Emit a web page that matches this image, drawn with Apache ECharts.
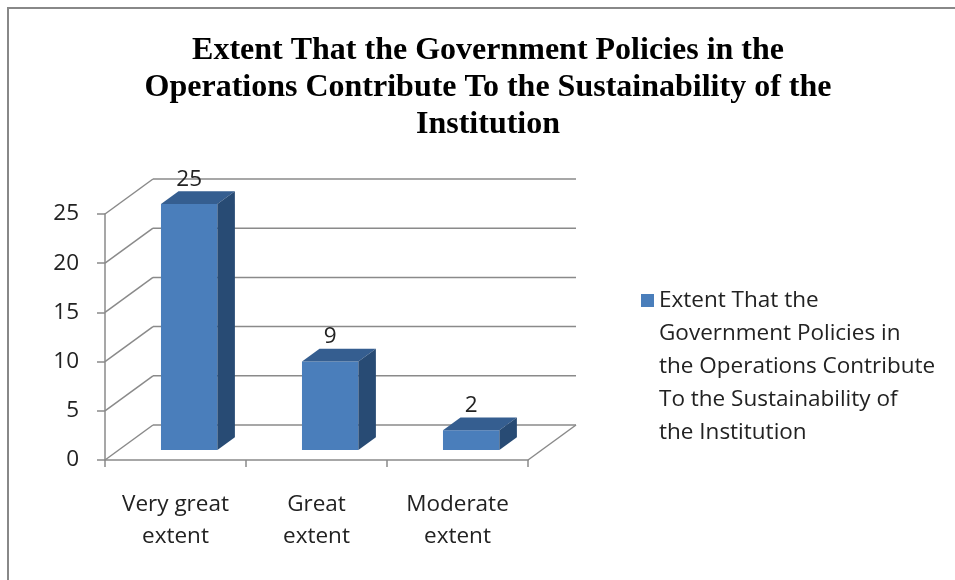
<!DOCTYPE html>
<html>
<head>
<meta charset="utf-8">
<script src="https://cdn.jsdelivr.net/npm/echarts@6/dist/echarts.min.js"></script>
<style>html,body{margin:0;padding:0;background:#fff;}#c{width:955px;height:580px;}</style>
</head>
<body>
<div id="c"></div>
<script>
const titleText = 'Extent That the Government Policies in the\nOperations Contribute To the Sustainability of the\nInstitution';
const seriesName = 'Extent That the Government Policies in the Operations Contribute To the Sustainability of the Institution';
const legendLines = ['Extent That the', 'Government Policies in', 'the Operations Contribute', 'To the Sustainability of', 'the Institution'];
const categories = ['Very great extent', 'Great extent', 'Moderate extent'];
const values = [25, 9, 2];
const yTicks = [0, 5, 10, 15, 20, 25];

const DX = 48, DY = -35;           // depth offset of the back wall
const F1 = 0.285, F2 = 0.65;       // bar front/back depth fractions
const GRID = '#8a8a8a';
const FRONT = '#4a7ebb', TOP = '#355e90', SIDE = '#284b74';
const FONT = '"Open Sans", sans-serif';
const FS = 22.5;

const chart = echarts.init(document.getElementById('c'));
chart.setOption({
  animation: false,
  backgroundColor: '#fff',
  title: {
    text: titleText,
    left: 488, top: 32, padding: 0, textAlign: 'center',
    textStyle: {fontFamily: '"Liberation Serif", serif', fontWeight: 'bold', fontSize: 32, lineHeight: 37, color: '#000'}
  },
  legend: {
    left: 641, top: 152, padding: 0, orient: 'vertical',
    itemWidth: 13, itemHeight: 13,
    data: [{name: seriesName, icon: 'rect', itemStyle: {color: FRONT}}],
    formatter: () => '\n\n\n\n' + legendLines.join('\n'),
    textStyle: {fontFamily: FONT, fontSize: FS, lineHeight: 33, color: '#222'}
  },
  graphic: [{
    type: 'rect', shape: {x: 8, y: 8, width: 1200, height: 1200},
    style: {fill: 'none', stroke: '#888', lineWidth: 2}, silent: true, z: 100
  }],
  grid: {left: 105, right: 427, top: 214, bottom: 120},
  xAxis: {
    type: 'category', data: categories, boundaryGap: true,
    axisLine: {lineStyle: {color: GRID, width: 1.5}},
    axisTick: {show: true, length: 7, interval: 0, lineStyle: {color: GRID, width: 1.5}},
    axisLabel: {
      interval: 0, margin: 29, fontFamily: FONT, fontSize: FS, lineHeight: 32, color: '#222',
      formatter: v => v.replace(/ (\S+)$/, '\n$1')
    },
    splitLine: {show: false}
  },
  yAxis: {
    type: 'value', min: 0, max: 25, interval: 5,
    axisLine: {show: true, lineStyle: {color: GRID, width: 1.5}},
    axisTick: {show: true, length: 8, lineStyle: {color: GRID, width: 1.5}},
    axisLabel: {margin: 26, fontFamily: FONT, fontSize: FS, color: '#222'},
    splitLine: {show: false}
  },
  series: [
    {
      type: 'custom', name: 'walls', silent: true, clip: false, z: 1,
      data: yTicks.map(v => [0, v]),
      renderItem: (params, api) => {
        const p = api.coord([0, api.value(1)]);
        const band = api.size([1, 0])[0];
        const left = p[0] - band / 2;
        const right = left + band * categories.length;
        const y = p[1];
        const ls = {stroke: GRID, lineWidth: 1.5};
        const children = [
          {type: 'line', shape: {x1: left, y1: y, x2: left + DX, y2: y + DY}, style: ls},
          {type: 'line', shape: {x1: left + DX, y1: y + DY, x2: right + DX, y2: y + DY}, style: ls}
        ];
        if (api.value(1) === 0) {
          children.push({type: 'line', shape: {x1: right, y1: y, x2: right + DX, y2: y + DY}, style: ls});
        }
        return {type: 'group', children};
      }
    },
    {
      type: 'custom', name: seriesName, clip: false, z: 2,
      itemStyle: {color: FRONT},
      data: values.map((v, i) => [i, v]),
      renderItem: (params, api) => {
        const base = api.coord([api.value(0), 0]);
        const top = api.coord([api.value(0), api.value(1)]);
        const band = api.size([1, 0])[0];
        const w = band * 0.4;
        const x0 = base[0] - w / 2 + DX * F1;
        const yb = base[1] + DY * F1;
        const yt = top[1] + DY * F1;
        const ddx = DX * (F2 - F1), ddy = DY * (F2 - F1);
        return {
          type: 'group',
          children: [
            {type: 'rect', shape: {x: x0, y: yt, width: w, height: yb - yt}, style: {fill: FRONT}},
            {type: 'polygon', shape: {points: [[x0, yt], [x0 + w, yt], [x0 + w + ddx, yt + ddy], [x0 + ddx, yt + ddy]]}, style: {fill: TOP}},
            {type: 'polygon', shape: {points: [[x0 + w, yt], [x0 + w + ddx, yt + ddy], [x0 + w + ddx, yb + ddy], [x0 + w, yb]]}, style: {fill: SIDE}},
            {type: 'text', style: {text: String(api.value(1)), x: x0 + w / 2, y: yt + ddy - 12, align: 'center', verticalAlign: 'middle', font: FS + 'px ' + FONT, fill: '#222'}}
          ]
        };
      }
    }
  ]
});
</script>
</body>
</html>
